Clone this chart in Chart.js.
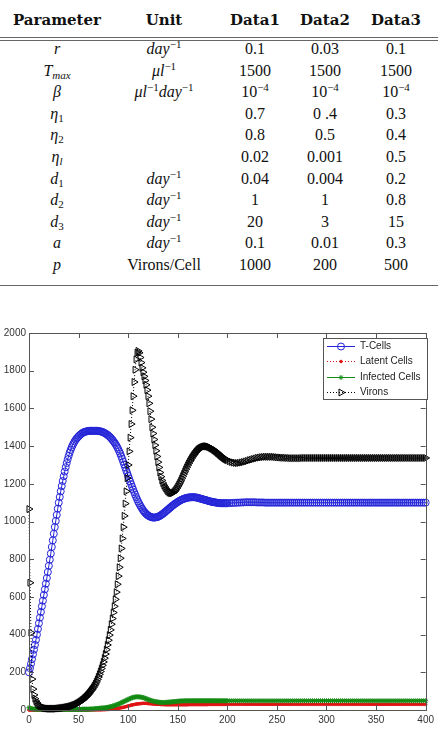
<!DOCTYPE html>
<html>
<head>
<meta charset="utf-8">
<script src="https://cdn.jsdelivr.net/npm/chart.js@4.4.0/dist/chart.umd.min.js"></script>
<style>
  html, body { margin: 0; padding: 0; background: #fff; }
  body { width: 438px; height: 745px; position: relative; overflow: hidden; }
  #tbl { position: absolute; left: 0; top: 0; width: 438px; height: 300px;
         font-family: "Liberation Serif", serif; font-size: 16px; color: #111; }
  .row { position: absolute; left: 0; width: 438px; height: 20px; }
  .cell { position: absolute; top: 0; text-align: center; line-height: 20px; white-space: nowrap; }
  .c1 { left: 7px; width: 100px; }
  .c2 { left: 104px; width: 120px; }
  .c3 { left: 215px; width: 80px; }
  .c4 { left: 285px; width: 80px; }
  .c5 { left: 356px; width: 80px; }
  .hdr .cell { font-family: "DejaVu Serif", serif; font-weight: bold; font-size: 15px; }
  .hline { position: absolute; left: 0; width: 438px; height: 1px; background: #666; }
  sup { font-size: 11px; vertical-align: 6px; line-height: 0; }
  sub { font-size: 11px; vertical-align: -3px; line-height: 0; }
  #c { position: absolute; left: 0; top: 320px; }
</style>
</head>
<body>
<div id="tbl"></div>
<canvas id="c" width="438" height="425"></canvas>
<script>
// ---- table text ----
const tableHead = ['Parameter', 'Unit', 'Data1', 'Data2', 'Data3'];
const params = ['<i>r</i>', '<i>T</i><sub><i>max</i></sub>', '<i>β</i>', '<i>η</i><sub>1</sub>',
  '<i>η</i><sub>2</sub>', '<i>η</i><sub><i>l</i></sub>', '<i>d</i><sub>1</sub>', '<i>d</i><sub>2</sub>',
  '<i>d</i><sub>3</sub>', '<i>a</i>', '<i>p</i>'];
const perDay = '<i>day</i><sup>−1</sup>';
const units = [perDay, '<i>μl</i><sup>−1</sup>', '<i>μl</i><sup>−1</sup><i>day</i><sup>−1</sup>', '', '', '',
  perDay, perDay, perDay, perDay, 'Virons/Cell'];
const data1 = ['0.1', '1500', '10<sup>−4</sup>', '0.7', '0.8', '0.02', '0.04', '1', '20', '0.1', '1000'];
const data2 = ['0.03', '1500', '10<sup>−4</sup>', '0 .4', '0.5', '0.001', '0.004', '1', '3', '0.01', '200'];
const data3 = ['0.1', '1500', '10<sup>−4</sup>', '0.3', '0.4', '0.5', '0.2', '0.8', '15', '0.3', '500'];

// ---- chart data ----
const days = [0,
  1, 2, 3, 4, 5, 6, 7, 8, 9, 10,
  11, 12, 13, 14, 15, 16, 17, 18, 19, 20,
  21, 22, 23, 24, 25, 26, 27, 28, 29, 30,
  31, 32, 33, 34, 35, 36, 37, 38, 39, 40,
  41, 42, 43, 44, 45, 46, 47, 48, 49, 50,
  51, 52, 53, 54, 55, 56, 57, 58, 59, 60,
  61, 62, 63, 64, 65, 66, 67, 68, 69, 70,
  71, 72, 73, 74, 75, 76, 77, 78, 79, 80,
  81, 82, 83, 84, 85, 86, 87, 88, 89, 90,
  91, 92, 93, 94, 95, 96, 97, 98, 99, 100,
  101, 102, 103, 104, 105, 106, 107, 108, 109, 110,
  111, 112, 113, 114, 115, 116, 117, 118, 119, 120,
  121, 122, 123, 124, 125, 126, 127, 128, 129, 130,
  131, 132, 133, 134, 135, 136, 137, 138, 139, 140,
  141, 142, 143, 144, 145, 146, 147, 148, 149, 150,
  151, 152, 153, 154, 155, 156, 157, 158, 159, 160,
  161, 162, 163, 164, 165, 166, 167, 168, 169, 170,
  171, 172, 173, 174, 175, 176, 177, 178, 179, 180,
  181, 182, 183, 184, 185, 186, 187, 188, 189, 190,
  191, 192, 193, 194, 195, 196, 197, 198, 199, 200,
  202, 204, 206, 208, 210, 212, 214, 216, 218, 220,
  222, 224, 226, 228, 230, 232, 234, 236, 238, 240,
  242, 244, 246, 248, 250, 252, 254, 256, 258, 260,
  262, 264, 266, 268, 270, 272, 274, 276, 278, 280,
  282, 284, 286, 288, 290, 292, 294, 296, 298, 300,
  302, 304, 306, 308, 310, 312, 314, 316, 318, 320,
  322, 324, 326, 328, 330, 332, 334, 336, 338, 340,
  342, 344, 346, 348, 350, 352, 354, 356, 358, 360,
  362, 364, 366, 368, 370, 372, 374, 376, 378, 380,
  382, 384, 386, 388, 390, 392, 394, 396, 398, 400];

const tCells = [200,
  222, 245, 270, 295, 320, 345, 372, 400, 430, 460,
  490, 520, 550, 580, 610, 640, 670, 700, 732, 765,
  797, 830, 865, 900, 935, 970, 1003, 1035, 1068, 1100,
  1130, 1160, 1188, 1215, 1240, 1265, 1288, 1310, 1330, 1348,
  1365, 1380, 1393, 1405, 1415, 1425, 1433, 1440, 1446, 1452,
  1457, 1462, 1466, 1470, 1473, 1475, 1477, 1478, 1479, 1480,
  1481, 1481, 1481, 1481, 1481, 1481, 1481, 1481, 1481, 1480,
  1479, 1478, 1477, 1475, 1473, 1470, 1467, 1464, 1460, 1456,
  1451, 1446, 1440, 1434, 1427, 1420, 1412, 1404, 1394, 1384,
  1372, 1360, 1346, 1332, 1317, 1302, 1287, 1272, 1257, 1242,
  1227, 1212, 1198, 1184, 1170, 1156, 1143, 1130, 1118, 1106,
  1096, 1086, 1077, 1068, 1060, 1053, 1047, 1041, 1036, 1032,
  1029, 1026, 1024, 1022, 1021, 1021, 1021, 1022, 1023, 1025,
  1027, 1030, 1033, 1037, 1041, 1045, 1049, 1054, 1058, 1063,
  1067, 1072, 1076, 1081, 1085, 1089, 1093, 1097, 1100, 1104,
  1107, 1110, 1113, 1116, 1118, 1120, 1122, 1124, 1125, 1127,
  1127, 1128, 1128, 1129, 1129, 1129, 1128, 1128, 1127, 1126,
  1124, 1123, 1121, 1120, 1118, 1117, 1115, 1114, 1112, 1111,
  1109, 1108, 1106, 1105, 1104, 1103, 1102, 1101, 1100, 1099,
  1098, 1098, 1097, 1097, 1097, 1097, 1097, 1097, 1097, 1097,
  1098, 1098, 1099, 1099, 1100, 1100, 1101, 1101, 1102, 1102,
  1102, 1102, 1102, 1102, 1101, 1101, 1101, 1101, 1100, 1100,
  1100, 1100, 1100, 1100, 1100, 1100, 1100, 1100, 1100, 1100,
  1100, 1100, 1100, 1100, 1100, 1100, 1100, 1100, 1100, 1100,
  1100, 1100, 1100, 1100, 1100, 1100, 1100, 1100, 1100, 1100,
  1100, 1100, 1100, 1100, 1100, 1100, 1100, 1100, 1100, 1100,
  1100, 1100, 1100, 1100, 1100, 1100, 1100, 1100, 1100, 1100,
  1100, 1100, 1100, 1100, 1100, 1100, 1100, 1100, 1100, 1100,
  1100, 1100, 1100, 1100, 1100, 1100, 1100, 1100, 1100, 1100,
  1100, 1100, 1100, 1100, 1100, 1100, 1100, 1100, 1100, 1100];

const latentCells = [0,
  0, 0, 0, 0, 0, 0, 0, 0, 0, 0,
  0, 0, 0, 0, 0, 0, 0, 0, 0, 0,
  0, 0, 0, 0, 0, 0, 0, 0, 0, 0,
  0, 0, 0, 0, 0, 0, 0, 0, 0, 0,
  0, 0, 0, 0, 0, 0, 0, 0, 0, 0,
  0, 0, 0, 0, 0, 0, 0, 0, 0, 0,
  0, 1, 1, 1, 1, 1, 1, 1, 1, 1,
  1, 1, 1, 2, 2, 2, 2, 3, 3, 3,
  4, 4, 4, 5, 5, 6, 7, 7, 8, 9,
  10, 11, 12, 13, 14, 15, 17, 18, 20, 21,
  23, 24, 26, 27, 28, 29, 30, 31, 32, 33,
  33, 34, 34, 35, 35, 35, 35, 35, 35, 34,
  34, 34, 33, 33, 32, 32, 31, 31, 30, 30,
  30, 30, 29, 29, 29, 29, 28, 28, 28, 28,
  28, 28, 28, 28, 28, 28, 28, 28, 28, 28,
  28, 28, 28, 28, 28, 28, 28, 28, 28, 28,
  29, 29, 29, 29, 29, 29, 29, 29, 29, 29,
  29, 29, 29, 29, 29, 29, 29, 29, 29, 29,
  30, 30, 30, 30, 30, 30, 30, 30, 30, 30,
  30, 30, 30, 30, 30, 30, 30, 30, 30, 30,
  30, 30, 30, 30, 30, 30, 30, 30, 30, 30,
  30, 30, 30, 30, 30, 30, 30, 30, 30, 30,
  30, 30, 30, 30, 30, 30, 30, 30, 30, 30,
  30, 30, 30, 30, 30, 30, 30, 30, 30, 30,
  30, 30, 30, 30, 30, 30, 30, 30, 30, 30,
  30, 30, 30, 30, 30, 30, 30, 30, 30, 30,
  30, 30, 30, 30, 30, 30, 30, 30, 30, 30,
  30, 30, 30, 30, 30, 30, 30, 30, 30, 30,
  30, 30, 30, 30, 30, 30, 30, 30, 30, 30,
  30, 30, 30, 30, 30, 30, 30, 30, 30, 30];

const infectedCells = [12,
  10, 8, 6, 5, 5, 4, 4, 3, 3, 3,
  3, 3, 3, 3, 3, 3, 3, 3, 3, 3,
  3, 3, 3, 3, 3, 3, 3, 3, 3, 3,
  3, 3, 3, 3, 3, 3, 3, 3, 3, 3,
  3, 3, 3, 3, 3, 3, 3, 3, 3, 3,
  3, 3, 3, 4, 4, 4, 4, 4, 4, 4,
  5, 5, 5, 5, 6, 6, 7, 7, 8, 8,
  9, 9, 10, 10, 11, 11, 12, 13, 14, 15,
  16, 17, 18, 20, 21, 23, 25, 27, 29, 31,
  33, 36, 38, 41, 43, 46, 48, 51, 53, 56,
  58, 61, 63, 65, 67, 68, 69, 70, 70, 70,
  70, 69, 68, 67, 66, 64, 62, 60, 58, 56,
  54, 52, 50, 49, 47, 46, 45, 44, 43, 42,
  41, 41, 40, 40, 40, 40, 40, 40, 41, 41,
  42, 42, 43, 43, 44, 44, 45, 45, 46, 46,
  47, 47, 48, 48, 48, 48, 49, 49, 49, 49,
  49, 49, 49, 49, 49, 49, 49, 49, 49, 49,
  49, 49, 49, 49, 49, 49, 49, 49, 49, 49,
  49, 49, 49, 49, 49, 49, 49, 49, 49, 49,
  49, 49, 49, 49, 49, 49, 49, 49, 49, 49,
  49, 49, 49, 49, 49, 49, 49, 49, 49, 49,
  49, 49, 49, 49, 49, 49, 49, 49, 49, 49,
  49, 49, 49, 49, 49, 49, 49, 49, 49, 49,
  49, 49, 49, 49, 49, 49, 49, 49, 49, 49,
  49, 49, 49, 49, 49, 49, 49, 49, 49, 49,
  49, 49, 49, 49, 49, 49, 49, 49, 49, 49,
  49, 49, 49, 49, 49, 49, 49, 49, 49, 49,
  49, 49, 49, 49, 49, 49, 49, 49, 49, 49,
  49, 49, 49, 49, 49, 49, 49, 49, 49, 49,
  49, 49, 49, 49, 49, 49, 49, 49, 49, 49];

const virons = [1066,
  675, 410, 164, 111, 80, 60, 47, 38, 30, 25,
  21, 17, 15, 13, 11, 10, 9, 8, 8, 7,
  7, 7, 7, 7, 7, 7, 7, 8, 8, 9,
  9, 10, 11, 11, 12, 13, 14, 15, 16, 17,
  18, 20, 21, 23, 25, 27, 29, 32, 35, 38,
  41, 45, 49, 53, 57, 62, 67, 72, 78, 84,
  91, 98, 105, 112, 120, 129, 139, 150, 162, 175,
  189, 204, 220, 237, 255, 275, 297, 320, 345, 370,
  397, 425, 455, 485, 517, 550, 587, 625, 667, 710,
  757, 805, 857, 910, 970, 1030, 1095, 1160, 1230, 1300,
  1372, 1445, 1517, 1590, 1665, 1740, 1805, 1860, 1895, 1905,
  1895, 1870, 1843, 1815, 1792, 1770, 1748, 1725, 1697, 1665,
  1627, 1585, 1543, 1500, 1467, 1435, 1405, 1375, 1345, 1315,
  1287, 1260, 1238, 1218, 1204, 1192, 1183, 1175, 1167, 1160,
  1156, 1152, 1151, 1150, 1152, 1155, 1161, 1168, 1176, 1185,
  1195, 1205, 1216, 1228, 1240, 1252, 1264, 1276, 1287, 1298,
  1308, 1318, 1327, 1336, 1344, 1352, 1359, 1366, 1372, 1378,
  1383, 1387, 1390, 1393, 1395, 1397, 1398, 1399, 1399, 1398,
  1396, 1394, 1391, 1388, 1385, 1381, 1377, 1373, 1369, 1364,
  1360, 1355, 1350, 1346, 1342, 1338, 1334, 1331, 1328, 1325,
  1320, 1316, 1313, 1311, 1310, 1311, 1313, 1315, 1318, 1321,
  1325, 1328, 1331, 1334, 1337, 1339, 1341, 1342, 1343, 1343,
  1343, 1343, 1343, 1342, 1341, 1340, 1339, 1338, 1338, 1337,
  1337, 1336, 1336, 1336, 1336, 1336, 1336, 1337, 1337, 1337,
  1337, 1337, 1337, 1337, 1337, 1337, 1337, 1337, 1337, 1337,
  1337, 1337, 1337, 1337, 1337, 1337, 1337, 1337, 1337, 1337,
  1337, 1337, 1337, 1337, 1337, 1337, 1337, 1337, 1337, 1337,
  1337, 1337, 1337, 1337, 1337, 1337, 1337, 1337, 1337, 1337,
  1337, 1337, 1337, 1337, 1337, 1337, 1337, 1337, 1337, 1337,
  1337, 1337, 1337, 1337, 1337, 1337, 1337, 1337, 1337, 1337];

const seriesNames = ['T-Cells', 'Latent Cells', 'Infected Cells', 'Virons'];

// ---- build the table ----
const tbl = document.getElementById('tbl');
function addRow(cells, top, cls) {
  const row = document.createElement('div');
  row.className = 'row' + (cls ? ' ' + cls : '');
  row.style.top = top + 'px';
  row.innerHTML = cells.map((c, i) => '<div class="cell c' + (i + 1) + '">' + c + '</div>').join('');
  tbl.appendChild(row);
}
function addLine(top) {
  const l = document.createElement('div');
  l.className = 'hline';
  l.style.top = top + 'px';
  tbl.appendChild(l);
}
addRow(tableHead, 10, 'hdr');
addLine(37);
addLine(40);
params.forEach((p, i) => {
  addRow([p, units[i], data1[i], data2[i], data3[i]], Math.round(39 + 21.6 * i));
});
addLine(285);

// ---- chart ----
const pts = vals => days.map((d, i) => ({ x: d, y: vals[i] }));
const blue = '#2424d8', red = '#e01414', green = '#138a13';

const styles = [
  { color: blue, pointStyle: 'circle', radius: 3.5, fill: 'rgba(0,0,0,0)', dash: [], rot: 0 },
  { color: red, pointStyle: 'circle', radius: 1.3, fill: red, dash: [1, 2], rot: 0 },
  { color: green, pointStyle: 'star', radius: 2.5, fill: green, dash: [], rot: 0 },
  { color: '#000', pointStyle: 'triangle', radius: 4, fill: 'rgba(0,0,0,0)', dash: [1, 2], rot: 90 }
];
const values = [tCells, latentCells, infectedCells, virons];

const matlabAxes = {
  id: 'matlabAxes',
  afterDraw(chart) {
    const { ctx, chartArea: a, scales: { x, y } } = chart;
    ctx.save();
    ctx.strokeStyle = '#555';
    ctx.lineWidth = 1;
    ctx.setLineDash([]);
    ctx.strokeRect(Math.round(a.left) + 0.5, Math.round(a.top) + 0.5,
      Math.round(a.right - a.left), Math.round(a.bottom - a.top));
    ctx.beginPath();
    x.ticks.forEach(t => {
      const px = Math.round(x.getPixelForValue(t.value)) + 0.5;
      ctx.moveTo(px, a.bottom); ctx.lineTo(px, a.bottom - 5);
      ctx.moveTo(px, a.top); ctx.lineTo(px, a.top + 5);
    });
    y.ticks.forEach(t => {
      const py = Math.round(y.getPixelForValue(t.value)) + 0.5;
      ctx.moveTo(a.left, py); ctx.lineTo(a.left + 5, py);
      ctx.moveTo(a.right, py); ctx.lineTo(a.right - 5, py);
    });
    ctx.stroke();

    // legend box, top right inside the axes
    const bx = 323, by = 18, bw = 104, bh = 61;
    ctx.fillStyle = '#fff';
    ctx.fillRect(bx, by, bw, bh);
    ctx.strokeStyle = '#555';
    ctx.strokeRect(bx + 0.5, by + 0.5, bw, bh);
    ctx.font = '10px "Liberation Sans", Arial, sans-serif';
    ctx.textBaseline = 'middle';
    seriesNames.forEach((name, i) => {
      const s = styles[i];
      const ly = Math.round(by + 8 + 15.3 * i) + 0.5;
      ctx.strokeStyle = s.color;
      ctx.setLineDash(s.dash);
      ctx.beginPath();
      ctx.moveTo(327, ly); ctx.lineTo(355, ly);
      ctx.stroke();
      ctx.setLineDash([]);
      ctx.fillStyle = s.fill;
      Chart.helpers.drawPoint(ctx, {
        pointStyle: s.pointStyle, radius: s.radius, rotation: s.rot, borderWidth: 1
      }, 341, ly);
      ctx.fillStyle = '#222';
      ctx.fillText(name, 360, ly);
    });
    ctx.restore();
  }
};

new Chart(document.getElementById('c'), {
  type: 'line',
  data: {
    datasets: values.map((v, i) => ({
      label: seriesNames[i],
      data: pts(v),
      borderColor: styles[i].color,
      borderWidth: 1,
      borderDash: styles[i].dash,
      pointStyle: styles[i].pointStyle,
      pointRadius: styles[i].radius,
      pointRotation: styles[i].rot,
      pointBorderColor: styles[i].color,
      pointBackgroundColor: styles[i].fill,
      pointBorderWidth: 1,
      tension: 0,
      fill: false,
      clip: 6,
      order: 3 - i
    }))
  },
  options: {
    responsive: false,
    animation: false,
    layout: { padding: { top: 13, right: 9, left: 0, bottom: 0 } },
    plugins: { legend: { display: false }, tooltip: { enabled: false } },
    scales: {
      x: {
        type: 'linear', min: 0, max: 400,
        grid: { display: false, drawTicks: false },
        border: { display: false },
        ticks: { stepSize: 50, padding: 4, color: '#333', maxRotation: 0,
                 callback: v => String(v),
                 font: { family: '"Liberation Sans", Arial, sans-serif', size: 10 } },
        afterFit: s => { s.height = 35; }
      },
      y: {
        min: 0, max: 2000,
        grid: { display: false, drawTicks: false },
        border: { display: false },
        ticks: { stepSize: 200, padding: 3, color: '#333',
                 callback: v => String(v),
                 font: { family: '"Liberation Sans", Arial, sans-serif', size: 10 } },
        afterFit: s => { s.width = 29; }
      }
    }
  },
  plugins: [matlabAxes]
});
</script>
</body>
</html>
